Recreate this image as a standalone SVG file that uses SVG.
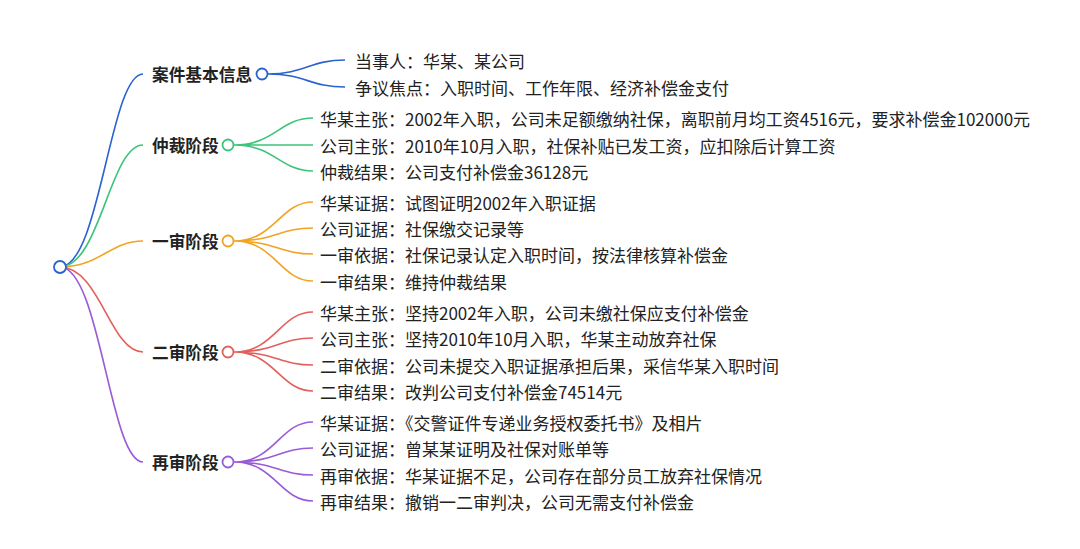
<svg xmlns="http://www.w3.org/2000/svg" width="1080" height="549" viewBox="0 0 1080 549">
<style>
text{font-family:"Noto Sans CJK SC","Noto Sans",sans-serif;fill:#222;dominant-baseline:central}
.p{font-size:16.7px;font-weight:bold}
.c{font-size:17px}
path{fill:none;stroke-width:1.6}
.b{stroke:#2a62d0}.g{stroke:#3cc47a}.o{stroke:#f0a422}.r{stroke:#e2605c}.v{stroke:#9a5bd8}
circle{fill:#fff;stroke-width:1.8}
</style>
<rect width="1080" height="549" fill="#fff"/>
<g id="connectors">
<path class="b" d="M60,267 C100,267 110,74 143,74"/>
<path class="g" d="M60,267 C100,267 110,145 143,145"/>
<path class="o" d="M60,267 C100,267 110,241 143,241"/>
<path class="r" d="M60,267 C100,267 110,352 143,352"/>
<path class="v" d="M60,267 C100,267 110,462 143,462"/>
<path class="b" d="M268,74 C305,74 310,60 345,60 M268,74 C305,74 310,87 345,87"/>
<path class="g" d="M234,145 C275,145 280,118 313,118 M234,145 C275,145 280,145 313,145 M234,145 C275,145 280,171 313,171"/>
<path class="o" d="M234,241 C275,241 280,202 313,202 M234,241 C275,241 280,228 313,228 M234,241 C275,241 280,254 313,254 M234,241 C275,241 280,281 313,281"/>
<path class="r" d="M234,352 C275,352 280,312 313,312 M234,352 C275,352 280,338 313,338 M234,352 C275,352 280,365 313,365 M234,352 C275,352 280,391 313,391"/>
<path class="v" d="M234,462 C275,462 280,422 313,422 M234,462 C275,462 280,448 313,448 M234,462 C275,462 280,475 313,475 M234,462 C275,462 280,501 313,501"/>
</g>
<g id="root"><circle cx="60" cy="267" r="6" stroke="#2a62d0"/></g>
<g id="n1"><text class="p" x="152" y="74">案件基本信息</text><circle cx="262" cy="74" r="5.5" stroke="#2a62d0"/>
<text class="c" x="355" y="60">当事人：华某、某公司</text><text class="c" x="355" y="87">争议焦点：入职时间、工作年限、经济补偿金支付</text></g>
<g id="n2"><text class="p" x="152" y="145">仲裁阶段</text><circle cx="228" cy="145" r="5.5" stroke="#3cc47a"/>
<text class="c" x="320" y="118">华某主张：2002年入职，公司未足额缴纳社保，离职前月均工资4516元，要求补偿金102000元</text>
<text class="c" x="320" y="145">公司主张：2010年10月入职，社保补贴已发工资，应扣除后计算工资</text>
<text class="c" x="320" y="171">仲裁结果：公司支付补偿金36128元</text></g>
<g id="n3"><text class="p" x="152" y="241">一审阶段</text><circle cx="228" cy="241" r="5.5" stroke="#f0a422"/>
<text class="c" x="320" y="202">华某证据：试图证明2002年入职证据</text>
<text class="c" x="320" y="228">公司证据：社保缴交记录等</text>
<text class="c" x="320" y="254">一审依据：社保记录认定入职时间，按法律核算补偿金</text>
<text class="c" x="320" y="281">一审结果：维持仲裁结果</text></g>
<g id="n4"><text class="p" x="152" y="352">二审阶段</text><circle cx="228" cy="352" r="5.5" stroke="#e2605c"/>
<text class="c" x="320" y="312">华某主张：坚持2002年入职，公司未缴社保应支付补偿金</text>
<text class="c" x="320" y="338">公司主张：坚持2010年10月入职，华某主动放弃社保</text>
<text class="c" x="320" y="365">二审依据：公司未提交入职证据承担后果，采信华某入职时间</text>
<text class="c" x="320" y="391">二审结果：改判公司支付补偿金74514元</text></g>
<g id="n5"><text class="p" x="152" y="462">再审阶段</text><circle cx="228" cy="462" r="5.5" stroke="#9a5bd8"/>
<text class="c" x="320" y="422">华某证据：《交警证件专递业务授权委托书》及相片</text>
<text class="c" x="320" y="448">公司证据：曾某某证明及社保对账单等</text>
<text class="c" x="320" y="475">再审依据：华某证据不足，公司存在部分员工放弃社保情况</text>
<text class="c" x="320" y="501">再审结果：撤销一二审判决，公司无需支付补偿金</text></g>
</svg>
